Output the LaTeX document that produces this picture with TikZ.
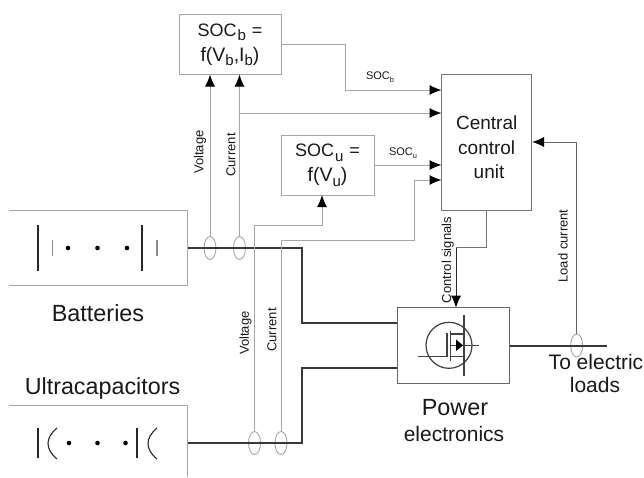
\documentclass[tikz,border=0pt]{standalone}
\usepackage{fontspec}
\setmainfont{Liberation Sans}
\usetikzlibrary{arrows.meta,shapes.geometric}
\definecolor{thin}{gray}{0.65}
\definecolor{txt}{gray}{0.1}
\newcommand{\fs}[1]{\fontsize{#1}{#1}\selectfont}
\newcommand{\sbb}[1]{\smash{\raisebox{-4.5pt}{\fs{15}#1}}}
\newcommand{\sbt}[1]{\smash{\raisebox{-2.5pt}{\fs{7.5}#1}}}
\tikzset{
  x=1pt,y=-1pt,
  wire/.style={draw=thin,line width=1pt},
  sig/.style={wire,-{Latex[length=12pt,width=10pt,black]}},
  power/.style={draw=black!78,line width=2pt},
  boxn/.style={draw=thin,line width=1pt,inner sep=0pt,align=center,text=txt},
  probe/.style={draw=thin,line width=0.9pt,fill=none,ellipse,minimum width=12pt,minimum height=23pt,inner sep=0pt},
  lab/.style={text=txt,inner sep=0pt,align=center},
  small/.style={lab,font=\fs{13}},
  tiny/.style={lab,font=\fs{11}},
  big/.style={lab,font=\fs{21}},
  sym/.style={draw=black!85,line width=1.1pt},
  gsym/.style={draw=black!45,line width=1.6pt},
  dot/.style={circle,fill=black,inner sep=0pt,minimum size=4.6pt},
  fet/.style={draw=black!75,line width=1.2pt}
}
\begin{document}
\begin{tikzpicture}
\useasboundingbox (0,0) rectangle (644,477);
\fill[white] (0,0) rectangle (644,477);
% boxes
\node[boxn,minimum width=102pt,minimum height=60pt,font=\fs{18}] (socb) at (230,44.5) {SOC\hspace{1pt}\sbb{b}\hspace{6pt}=\\[7pt] {\fs{19.5}f(V\sbb{b},I\sbb{b})}};
\node[boxn,minimum width=93pt,minimum height=60pt,font=\fs{18}] (socu) at (327.5,165) {SOC\hspace{1pt}\sbb{u}\hspace{6pt}=\\[7pt] {\fs{19.5}f(V\sbb{u})}};
\node[boxn,draw=black!55,minimum width=90.5pt,minimum height=136pt] (ccu) at (486.7,142) {};
\node[boxn,draw=black!60,minimum width=112pt,minimum height=75.5pt] (pe) at (453,345.5) {};
% source boxes
\draw[wire] (9,210) -- (187.5,210) -- (187.5,285) -- (9,285);
\draw[wire] (9,405.7) -- (187.5,405.7) -- (187.5,477);
% named points
\coordinate (bo) at (187.5,248);
\coordinate (uo) at (187.5,443);
\node[probe] (p1) at (210,248) {};
\node[probe] (p2) at (239.5,248) {};
\node[probe] (p3) at (254.5,443) {};
\node[probe] (p4) at (281,443) {};
\node[probe] (p5) at (576.7,345.5) {};
\coordinate (loadend) at (607,345.5);
\coordinate (socbin1) at (210,74.5);
\coordinate (socbin2) at (239.5,74.5);
\coordinate (socuin) at (322,195);
\coordinate (cin1) at (441.5,90);
\coordinate (cin2) at (441.5,113);
\coordinate (cin3) at (441.5,165);
\coordinate (cin4) at (441.5,180);
\coordinate (cin5) at (532,142);
\coordinate (cout) at (486.7,210);
\coordinate (pein) at (456,307.7);
\coordinate (pel1) at (397,323);
\coordinate (pel2) at (397,368);
% power lines
\draw[power] (bo) -- (302,248) -- (302,323) -- (pel1);
\draw[power] (uo) -- (302,443) -- (302,368) -- (pel2);
\draw[power] (pe.east) -- (loadend);
% signals
\draw[sig] (p1.north) -- (socbin1);
\draw[sig] (p2.north) -- (socbin2);
\draw[sig] (239.5,113) -- (cin2);
\draw[sig] (socb.east) -- (345,44.5) -- (345,90) -- (cin1);
\draw[sig] (socu.east) -- (cin3);
\draw[sig] (p3.north) -- (254.5,225) -- (322,225) -- (socuin);
\draw[sig] (p4.north) -- (281,240) -- (414,240) -- (414,180) -- (cin4);
\draw[sig,draw=black!60] (p5.north) -- (576.7,142) -- (cin5);
\draw[wire,draw=black!55] (cout) -- (486.7,247.7) -- (456,247.7);
\draw[draw=black!85,line width=1pt,-{Latex[length=12pt,width=10pt,black]}] (456,247.7) -- (pein);
% battery symbols
\draw[sym] (38,225) -- (38,271) (142,225) -- (142,271);
\draw[gsym] (52.5,240) -- (52.5,256) (157,240) -- (157,256);
\node[dot] (d1) at (68,248) {};
\node[dot] (d2) at (97.5,248) {};
\node[dot] (d3) at (127,248) {};
% capacitor symbols
\draw[sym] (38,428) -- (38,458) (137,428) -- (137,458);
\draw[sym] (57,428) .. controls (45,438) and (45,449) .. (57,459);
\draw[sym] (157,428) .. controls (145,438) and (145,449) .. (157,459);
\node[dot] (d4) at (69,443) {};
\node[dot] (d5) at (97.5,443) {};
\node[dot] (d6) at (125.5,443) {};
% mosfet
\draw[fet] (449,345.3) circle (23);
\draw[fet] (464,315) -- (464,376);
\draw[fet] (418,356.7) -- (447,356.7) -- (447,333);
\draw[fet] (450.5,330.7) -- (450.5,360.7);
\draw[fet] (450.5,334) -- (464,334) (450.5,345.3) -- (479,345.3) (450.5,356.5) -- (464,356.5);
\fill[black] (456,339.5) -- (463,345.3) -- (456,351) -- cycle;
% labels
\node[lab,font=\fs{19}] (tc1) at (486.7,123) {Central};
\node[lab,font=\fs{19}] (tc2) at (486.7,147.5) {control};
\node[lab,font=\fs{19}] (tc3) at (489,172) {unit};
\node[big,font=\fs{23.4}] (tb) at (98,313) {Batteries};
\node[big,font=\fs{23.3}] (tu) at (102.5,388) {Ultracapacitors};
\node[big,font=\fs{23.4}] (tp1) at (455,408) {Power};
\node[big] (tp2) at (454,434) {electronics};
\node[big] (tl1) at (596,362) {To electric};
\node[big] (tl2) at (595,385) {loads};
\node[tiny] (t1) at (380,76) {SOC\sbt{b}};
\node[tiny] (t2) at (403,152) {SOC\sbt{u}};
\node[small,rotate=90] (t3) at (200,152) {Voltage};
\node[small,rotate=90] (t4) at (231,155) {Current};
\node[small,rotate=90] (t5) at (245.5,333) {Voltage};
\node[small,rotate=90] (t6) at (272,330) {Current};
\node[small,rotate=90] (t7) at (447.7,260) {Control signals};
\node[small,rotate=90] (t8) at (563,246) {Load current};
\end{tikzpicture}
\end{document}
